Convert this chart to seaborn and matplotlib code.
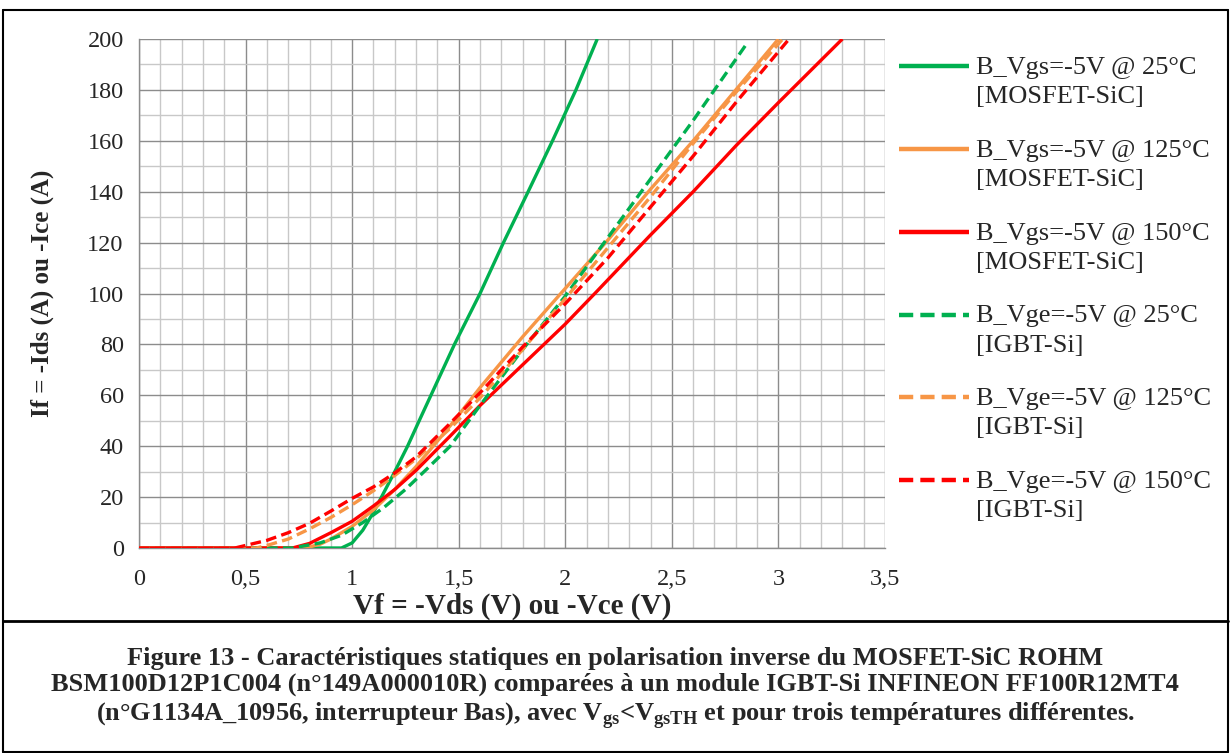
import matplotlib
matplotlib.use("Agg")
import matplotlib.pyplot as plt
import matplotlib.ticker as mticker
from matplotlib.lines import Line2D
import pandas as pd
import seaborn as sns

# MOSFET-SiC curves (solid)
v_mos25 = [0, 0.95, 1.0, 1.05, 1.1, 1.15, 1.2, 1.26, 1.32, 1.48, 1.6, 1.71, 1.82, 1.94, 2.05, 2.15]
i_mos25 = [0, 0, 2, 7, 14, 22, 30, 40, 51, 80, 100, 120, 139, 160, 180, 200]
v_mos125 = [0, 0.78, 0.85, 0.9, 1.0, 1.1, 1.2, 1.3, 1.46, 1.6, 1.8, 2.0, 2.2, 2.4, 2.6, 2.8, 3.0]
i_mos125 = [0, 0, 1.5, 3.5, 8.5, 15, 23, 32, 48, 63, 83, 102, 121, 141, 160, 180, 200]
v_mos150 = [0, 0.72, 0.8, 0.9, 1.0, 1.1, 1.2, 1.3, 1.46, 1.6, 1.8, 2.0, 2.15, 2.4, 2.6, 2.8, 3.0, 3.3]
i_mos150 = [0, 0, 1.8, 6, 10.5, 16.5, 23, 30.5, 44, 56, 72, 88, 101, 123, 140, 158, 175, 200]

# IGBT-Si curves (dashed)
v_igbt25 = [0, 0.72, 0.85, 0.95, 1.05, 1.15, 1.25, 1.35, 1.46, 1.6, 1.8, 2.0, 2.2, 2.4, 2.6, 2.85]
i_igbt25 = [0, 0, 2, 5, 10, 16, 23, 31, 40, 56, 78, 99, 122, 145, 168, 198]
v_igbt125 = [0, 0.55, 0.6, 0.7, 0.8, 0.9, 1.0, 1.1, 1.2, 1.3, 1.46, 1.6, 1.8, 2.0, 2.2, 2.4, 2.6, 2.8, 3.02]
i_igbt125 = [0, 0, 1, 3.5, 7.5, 12, 17, 22.5, 28.5, 35, 47, 59, 78, 98, 118, 138, 159, 179, 200]
v_igbt150 = [0, 0.45, 0.5, 0.6, 0.7, 0.8, 0.9, 1.0, 1.1, 1.2, 1.3, 1.46, 1.6, 1.8, 2.0, 2.2, 2.4, 2.6, 2.8, 3.05]
i_igbt150 = [0, 0, 1, 3, 6, 9.7, 14.5, 19.5, 24, 29.5, 35.8, 49, 61, 79, 96, 114, 134, 154, 175, 200]

labels = [
    "B_Vgs=-5V @ 25°C\n[MOSFET-SiC]",
    "B_Vgs=-5V @ 125°C\n[MOSFET-SiC]",
    "B_Vgs=-5V @ 150°C\n[MOSFET-SiC]",
    "B_Vge=-5V @ 25°C\n[IGBT-Si]",
    "B_Vge=-5V @ 125°C\n[IGBT-Si]",
    "B_Vge=-5V @ 150°C\n[IGBT-Si]",
]
x_ticks = [0, 0.5, 1, 1.5, 2, 2.5, 3, 3.5]
x_ticklabels = ["0", "0,5", "1", "1,5", "2", "2,5", "3", "3,5"]
y_ticks = [0, 20, 40, 60, 80, 100, 120, 140, 160, 180, 200]

series = [
    (v_mos25, i_mos25), (v_mos125, i_mos125), (v_mos150, i_mos150),
    (v_igbt25, i_igbt25), (v_igbt125, i_igbt125), (v_igbt150, i_igbt150),
]
colors = ["#00B050", "#F79646", "#FF0000", "#00B050", "#F79646", "#FF0000"]
dashed = [False, False, False, True, True, True]

sns.set_style("white")
plt.rcParams["font.family"] = ["Liberation Serif", "DejaVu Serif"]
plt.rcParams["mathtext.fontset"] = "custom"
plt.rcParams["mathtext.rm"] = "Liberation Serif"
plt.rcParams["mathtext.bf"] = "Liberation Serif:bold"

fig = plt.figure(figsize=(12.31, 7.53), dpi=100)
ax = fig.add_axes([139 / 1231, 1 - 548 / 753, (885 - 139) / 1231, (548 - 39) / 753])

handles = []
for (vx, iy), c, d, lab in zip(series, colors, dashed, labels):
    df = pd.DataFrame({"V": vx, "I": iy})
    sns.lineplot(data=df, x="V", y="I", ax=ax, color=c, lw=2.4,
                 estimator=None, sort=False, zorder=3)
    ln = ax.get_lines()[-1]
    if d:
        ln.set_dashes((3.2, 1.6))
    ln.set_solid_capstyle("butt")
    handles.append(ln)

ax.set_xlim(0, 3.5)
ax.set_ylim(0, 200)
ax.set_xticks(x_ticks)
ax.set_xticklabels(x_ticklabels)
ax.set_yticks(y_ticks)
ax.xaxis.set_minor_locator(mticker.MultipleLocator(0.1))
ax.yaxis.set_minor_locator(mticker.MultipleLocator(10))
ax.grid(which="major", color="#8c8c8c", lw=1.0, zorder=1)
ax.grid(which="minor", color="#c8c8c8", lw=1.0, zorder=0)
ax.set_axisbelow(True)
for s in ["top", "right"]:
    ax.spines[s].set_visible(False)
for s in ["left", "bottom"]:
    ax.spines[s].set_color("#8c8c8c")
    ax.spines[s].set_linewidth(1.0)
ax.tick_params(which="major", direction="out", length=5, width=1, color="#8c8c8c",
               labelsize=17.5, pad=6)
ax.tick_params(axis="x", which="major", pad=10)
ax.tick_params(which="minor", length=0)

ax.set_xlabel("Vf = -Vds (V) ou -Vce (V)", fontsize=21, fontweight="bold", labelpad=2)
ax.set_ylabel("If = -Ids (A) ou -Ice (A)", fontsize=18, fontweight="bold", labelpad=24)

leg = fig.legend(handles, labels, loc="upper left", bbox_to_anchor=(899 / 1231, 1 - 57 / 753),
                 frameon=False, fontsize=19, handlelength=2.65, handletextpad=0.25,
                 labelspacing=1.2, borderpad=0, borderaxespad=0)
for h in leg.legend_handles:
    h.set_linewidth(3.2)
for t in leg.get_texts():
    t.set_linespacing(1.42)
# put each handle next to the first line of its label
for col in leg._legend_handle_box.get_children():
    for item in col.get_children():
        item.align = "top"

# frame around figure and caption separator
W, H = 1231, 753
def fline(x0, y0, x1, y1, lw):
    fig.add_artist(Line2D([x0 / W, x1 / W], [1 - y0 / H, 1 - y1 / H], color="black", lw=lw))
fline(3, 10, 1228, 10, 1.5)
fline(3, 10, 3, 752, 1.5)
fline(1228, 10, 1228, 752, 1.5)
fline(3, 621, 1228, 621, 2.0)
fline(3, 752, 1228, 752, 1.5)

caption = ("Figure 13 - Caractéristiques statiques en polarisation inverse du MOSFET-SiC ROHM\n"
           "BSM100D12P1C004 (n°149A000010R) comparées à un module IGBT-Si INFINEON FF100R12MT4\n"
           r"(n°G1134A_10956, interrupteur Bas), avec V$_{\mathbf{gs}}$<V$_{\mathbf{gsTH}}$"
           " et pour trois températures différentes.")
fig.text(615 / W, 1 - 689 / H, caption, ha="center", va="center", fontsize=19,
         fontweight="bold", linespacing=1.17)

fig.savefig("out.png", dpi=100)
